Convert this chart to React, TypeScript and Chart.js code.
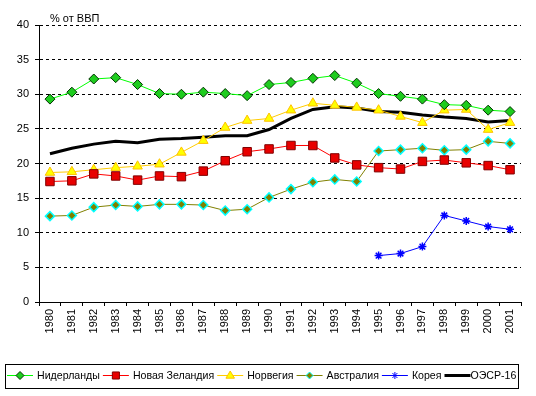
import React, { useEffect, useRef } from "react";
import { Chart, registerables } from "chart.js";

Chart.register(...registerables);

const years = ["1980","1981","1982","1983","1984","1985","1986","1987","1988","1989","1990","1991","1992","1993","1994","1995","1996","1997","1998","1999","2000","2001"];
const netherlands = [29.3,30.3,32.2,32.4,31.4,30.1,30.0,30.3,30.1,29.8,31.4,31.7,32.3,32.7,31.6,30.1,29.7,29.3,28.5,28.4,27.7,27.5];
const newZealand = [17.4,17.5,18.5,18.2,17.6,18.2,18.1,18.9,20.4,21.7,22.1,22.6,22.6,20.8,19.8,19.4,19.2,20.3,20.5,20.1,19.7,19.1];
const norway = [18.7,18.8,19.1,19.4,19.6,19.9,21.6,23.3,25.2,26.2,26.5,27.7,28.7,28.4,28.1,27.7,26.8,25.9,27.7,27.8,24.9,25.9];
const australia = [12.4,12.5,13.7,14.0,13.8,14.1,14.1,14.0,13.2,13.4,15.1,16.3,17.3,17.7,17.4,21.8,22.0,22.2,21.9,22.0,23.2,22.9];
const korea = [null,null,null,null,null,null,null,null,null,null,null,null,null,null,null,6.7,7.0,8.0,12.5,11.7,10.9,10.5];
const oecd16 = [21.4,22.2,22.8,23.2,23.0,23.5,23.6,23.8,24.0,24.0,24.9,26.5,27.8,28.2,28.0,27.5,27.4,27.0,26.7,26.5,26.0,26.2];
const yTicks = [0,5,10,15,20,25,30,35,40];
const axisTitle = "% от ВВП";

const FONT = "'Liberation Sans', Arial, sans-serif";

function drawMarker(ctx: CanvasRenderingContext2D, style: string, x: number, y: number, r: number, fill: string, stroke: string) {
  ctx.save();
  ctx.fillStyle = fill;
  ctx.strokeStyle = stroke;
  ctx.lineWidth = 1;
  ctx.beginPath();
  if (style === "rectRot") {
    ctx.moveTo(x, y - r); ctx.lineTo(x + r, y); ctx.lineTo(x, y + r); ctx.lineTo(x - r, y); ctx.closePath();
    ctx.fill(); ctx.stroke();
  } else if (style === "rect") {
    const s = r * Math.SQRT1_2;
    ctx.rect(x - s, y - s, 2 * s, 2 * s); ctx.fill(); ctx.stroke();
  } else if (style === "triangle") {
    ctx.moveTo(x, y - r); ctx.lineTo(x + r * 0.95, y + r * 0.6); ctx.lineTo(x - r * 0.95, y + r * 0.6); ctx.closePath();
    ctx.fill(); ctx.stroke();
  } else if (style === "star") {
    for (let i = 0; i < 4; i++) {
      const a = (i * Math.PI) / 4;
      ctx.moveTo(x - Math.cos(a) * r, y - Math.sin(a) * r);
      ctx.lineTo(x + Math.cos(a) * r, y + Math.sin(a) * r);
    }
    ctx.stroke();
  }
  ctx.restore();
}

const decorPlugin = {
  id: "decor",
  afterDraw(chart: any) {
    const ctx: CanvasRenderingContext2D = chart.ctx;
    const area = chart.chartArea;
    ctx.save();
    ctx.font = `11px ${FONT}`;
    ctx.fillStyle = "#000";
    ctx.textBaseline = "alphabetic";
    ctx.textAlign = "left";
    ctx.fillText(axisTitle, area.left + 11, area.top - 3);

    // legend
    ctx.font = `10.6px ${FONT}`;
    const boxX = 5.5, boxY = 364.5, boxW = 513, boxH = 24;
    ctx.strokeStyle = "#000";
    ctx.lineWidth = 1;
    ctx.strokeRect(boxX, boxY, boxW, boxH);
    const cy = 375;
    let x = 7;
    chart.data.datasets.forEach((ds: any) => {
      ctx.save();
      ctx.strokeStyle = ds.borderColor;
      ctx.lineWidth = ds.borderWidth;
      ctx.beginPath();
      ctx.moveTo(x, cy + 0.5);
      ctx.lineTo(x + 26, cy + 0.5);
      ctx.stroke();
      ctx.restore();
      if (ds.pointRadius > 0) {
        drawMarker(ctx, ds.pointStyle, x + 13, cy + 0.5, ds.legendRadius, ds.pointBackgroundColor, ds.pointBorderColor);
      }
      x += 26 + (ds.pointRadius > 0 ? 4 : 0);
      ctx.fillStyle = "#000";
      ctx.textBaseline = "middle";
      ctx.fillText(ds.label, x, cy + 1);
      x += ctx.measureText(ds.label).width + 3;
    });
    ctx.restore();
  },
};

export default function App() {
  const ref = useRef<HTMLCanvasElement>(null);
  useEffect(() => {
    document.body.style.margin = "0";
    const canvas = ref.current!;
    const chart = new Chart(canvas, {
      type: "line",
      data: {
        labels: years,
        datasets: [
          { label: "Нидерланды", data: netherlands, borderColor: "#00FF00", borderWidth: 1, pointStyle: "rectRot", pointRadius: 5, legendRadius: 4, pointBackgroundColor: "#1ECC1E", pointBorderColor: "#003300", pointBorderWidth: 1 } as any,
          { label: "Новая Зеландия", data: newZealand, borderColor: "#FF0000", borderWidth: 1, pointStyle: "rect", pointRadius: 6, legendRadius: 5, pointBackgroundColor: "#E80000", pointBorderColor: "#800000", pointBorderWidth: 1 } as any,
          { label: "Норвегия", data: norway, borderColor: "#FFCC00", borderWidth: 1, pointStyle: "triangle", pointRadius: 5.5, legendRadius: 4.5, pointBackgroundColor: "#FFFF00", pointBorderColor: "#FFC000", pointBorderWidth: 1 } as any,
          { label: "Австралия", data: australia, borderColor: "#808000", borderWidth: 1, pointStyle: "rectRot", pointRadius: 4.5, legendRadius: 3.5, pointBackgroundColor: "#808000", pointBorderColor: "#00FFFF", pointBorderWidth: 1.5 } as any,
          { label: "Корея", data: korea, borderColor: "#0000FF", borderWidth: 1, pointStyle: "star", pointRadius: 4, legendRadius: 3.5, pointBackgroundColor: "#0000FF", pointBorderColor: "#0000FF", pointBorderWidth: 1.5 } as any,
          { label: "ОЭСР-16", data: oecd16, borderColor: "#000000", borderWidth: 3, pointRadius: 0, legendRadius: 0, pointBackgroundColor: "#000", pointBorderColor: "#000" } as any,
        ],
      },
      options: {
        animation: false,
        responsive: false,
        spanGaps: false,
        layout: { padding: { left: 0, top: 25, right: 15, bottom: 46 } },
        plugins: { legend: { display: false }, tooltip: { enabled: false }, title: { display: false } },
        elements: { line: { tension: 0 } },
        scales: {
          x: {
            type: "category",
            offset: true,
            grid: { display: true, drawOnChartArea: false, offset: true, color: "#000", tickLength: 4, tickColor: "#000" },
            border: { display: true, color: "#000", width: 1 },
            ticks: { color: "#000", font: { family: FONT, size: 11 }, minRotation: 90, maxRotation: 90, padding: 3, autoSkip: false },
            afterFit: (s: any) => { s.height = 48; },
          },
          y: {
            min: 0,
            max: 40,
            afterBuildTicks: (s: any) => { s.ticks = yTicks.map((v) => ({ value: v })); },
            grid: {
              color: (c: any) => (c.tick && c.tick.value === 0 ? "rgba(0,0,0,0)" : "#000"),
              tickColor: "#000",
              tickLength: 4,
              drawTicks: true,
            },
            border: { display: true, color: "#000", width: 1, dash: [3, 3] },
            ticks: { color: "#000", font: { family: FONT, size: 11 }, padding: 6 },
            afterFit: (s: any) => { s.width = 39; },
          },
        },
      } as any,
      plugins: [decorPlugin],
    });
    return () => chart.destroy();
  }, []);
  return (
    <div style={{ width: 536, height: 396 }}>
      <canvas ref={ref} width={536} height={396} style={{ display: "block" }} />
    </div>
  );
}
